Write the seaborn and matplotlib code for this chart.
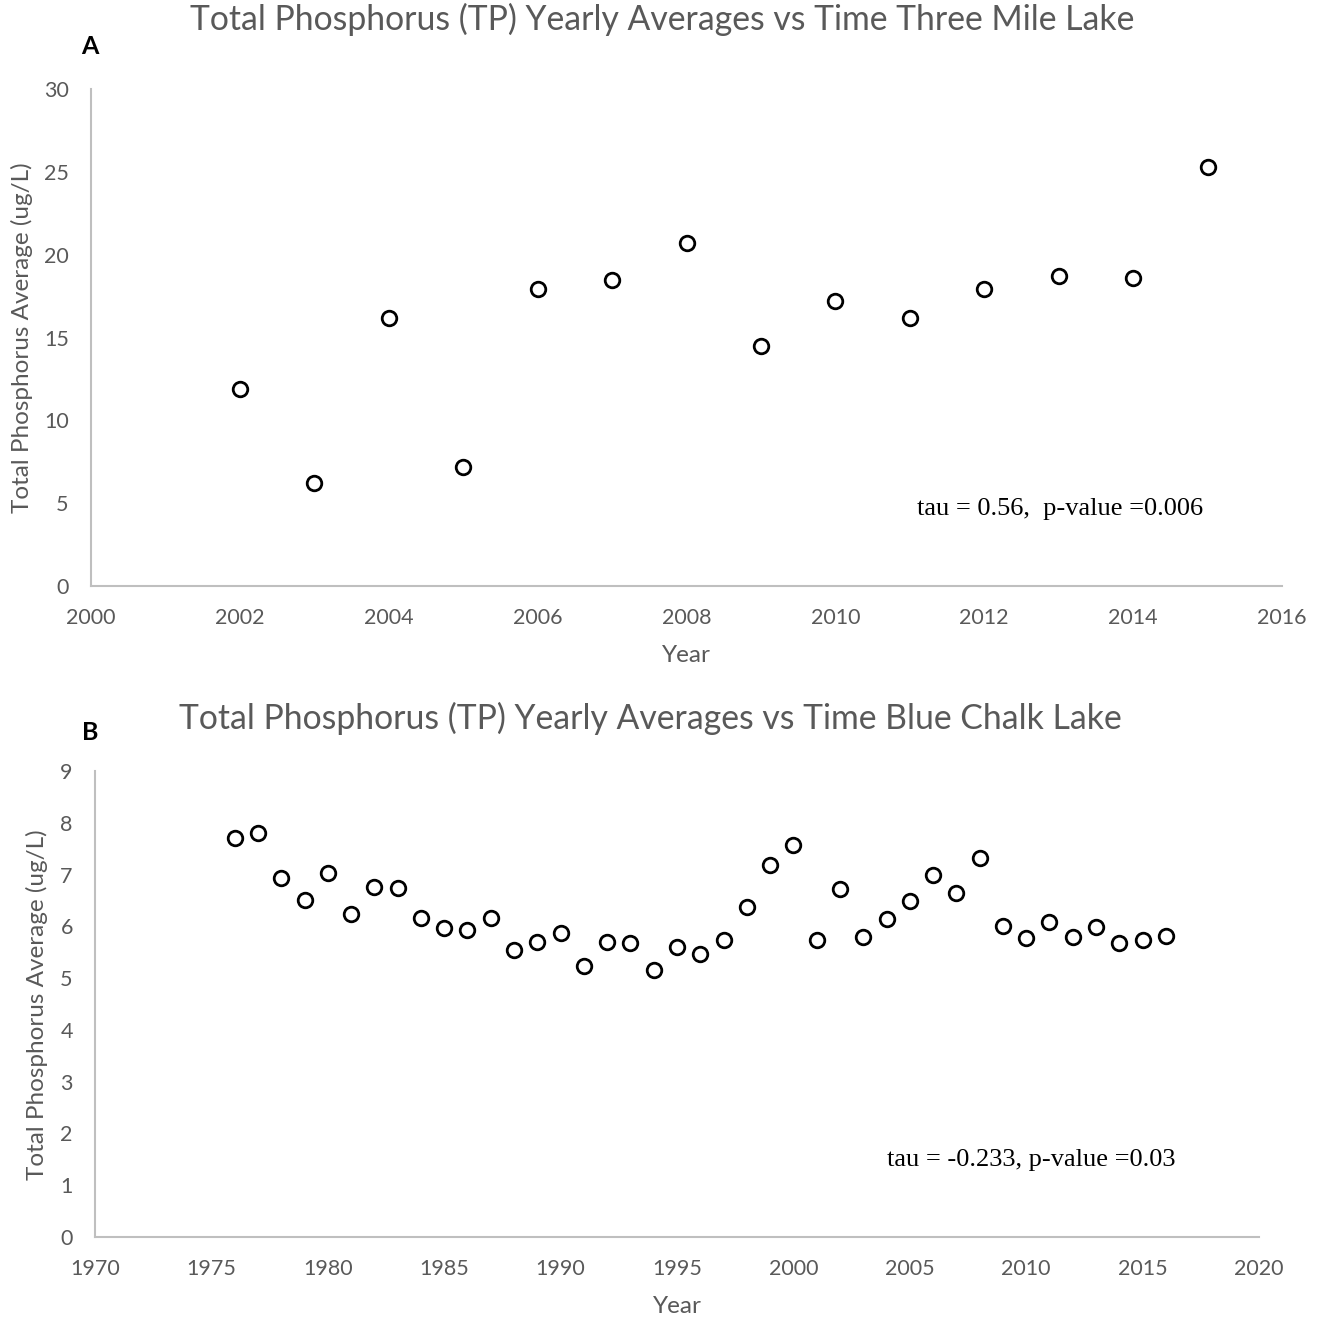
import matplotlib
matplotlib.use("Agg")
import matplotlib.pyplot as plt
import seaborn as sns
import pandas as pd

# Three Mile Lake yearly TP averages
years_a = [2002, 2003, 2004, 2005, 2006, 2007, 2008, 2009, 2010, 2011, 2012, 2013, 2014, 2015]
tp_a = [11.9, 6.2, 16.2, 7.2, 17.9, 18.5, 20.7, 14.5, 17.2, 16.2, 17.9, 18.7, 18.6, 25.3]

# Blue Chalk Lake yearly TP averages
years_b = list(range(1976, 2017))
tp_b = [7.71, 7.80, 6.93, 6.51, 7.03, 6.24, 6.76, 6.74, 6.16, 5.97,
        5.93, 6.16, 5.54, 5.70, 5.87, 5.23, 5.70, 5.68, 5.16, 5.60,
        5.47, 5.74, 6.37, 7.18, 7.57, 5.74, 6.72, 5.79, 6.14, 6.49,
        6.99, 6.64, 7.32, 6.01, 5.77, 6.08, 5.79, 5.99, 5.68, 5.74, 5.81]

title_a = "Total Phosphorus (TP) Yearly Averages vs Time Three Mile Lake"
title_b = "Total Phosphorus (TP) Yearly Averages vs Time Blue Chalk Lake"
ylabel = "Total Phosphorus Average (ug/L)"
xlabel = "Year"
stat_a = "tau = 0.56,  p-value =0.006"
stat_b = "tau = -0.233, p-value =0.03"

sns.set_theme(style="white")
plt.rcParams["font.family"] = ["Lato", "DejaVu Sans"]

grey = "#595959"
spine_grey = "#BFBFBF"

fig = plt.figure(figsize=(13.26, 13.21), dpi=100)
ax_a = fig.add_axes([91/1326, 1-586/1321, 1191/1326, 497/1321])
ax_b = fig.add_axes([95/1326, 1-1237/1321, 1164/1326, 466/1321])

df_a = pd.DataFrame({"Year": years_a, "TP": tp_a})
df_b = pd.DataFrame({"Year": years_b, "TP": tp_b})

panels = [
    dict(ax=ax_a, df=df_a, xlim=(2000, 2016), xt=range(2000, 2017, 2),
         ylim=(0, 30), yt=range(0, 31, 5), stat=stat_a, stat_pos=(0.814, 0.155),
         ylab_pos=(-0.058, 0.50), xlab_pos=(0.4996, -0.139)),
    dict(ax=ax_b, df=df_b, xlim=(1970, 2020), xt=range(1970, 2021, 5),
         ylim=(0, 9), yt=range(0, 10, 1), stat=stat_b, stat_pos=(0.804, 0.165),
         ylab_pos=(-0.0498, 0.498), xlab_pos=(0.5, -0.150)),
]

for p in panels:
    ax = p["ax"]
    sns.scatterplot(data=p["df"], x="Year", y="TP", ax=ax, s=110, marker="o",
                    facecolor="white", edgecolor="black", linewidth=2.0, zorder=3)
    ax.set_xlim(*p["xlim"])
    ax.set_ylim(*p["ylim"])
    ax.set_xticks(list(p["xt"]))
    ax.set_yticks(list(p["yt"]))
    ax.tick_params(axis="both", length=0, labelsize=15.5, labelcolor=grey)
    ax.tick_params(axis="x", pad=16)
    ax.tick_params(axis="y", pad=16)
    for side in ("top", "right"):
        ax.spines[side].set_visible(False)
    for side in ("left", "bottom"):
        ax.spines[side].set_color(spine_grey)
        ax.spines[side].set_linewidth(1.5)
    ax.set_xlabel(xlabel, fontsize=17.5, color=grey, va="center")
    ax.set_ylabel(ylabel, fontsize=17.5, color=grey, va="center")
    ax.xaxis.set_label_coords(*p["xlab_pos"])
    ax.yaxis.set_label_coords(*p["ylab_pos"])
    ax.grid(False)
    ax.text(p["stat_pos"][0], p["stat_pos"][1], p["stat"], transform=ax.transAxes,
            ha="center", va="center", fontsize=19, family="Liberation Serif", color="black")

fig.text(662/1326, 1-19/1321, title_a, ha="center", va="center", fontsize=24.3, color=grey)
fig.text(650/1326, 1-718/1321, title_b, ha="center", va="center", fontsize=24.3, color=grey)
fig.text(90/1326, 1-47/1321, "A", ha="center", va="center", fontsize=18, fontweight="bold", color="black")
fig.text(90/1326, 1-733/1321, "B", ha="center", va="center", fontsize=18, fontweight="bold", color="black")

fig.savefig("out.png", dpi=100, facecolor="white")
